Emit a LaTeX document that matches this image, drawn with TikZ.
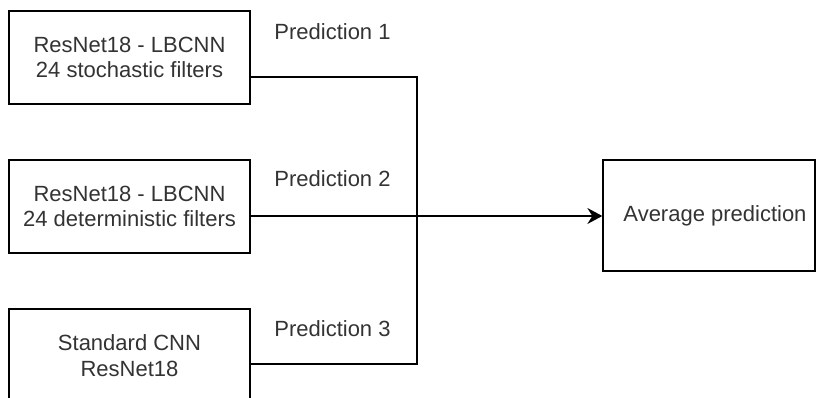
\documentclass[tikz,border=0pt]{standalone}
\usepackage{fontspec}
\setmainfont{Liberation Sans}
\usetikzlibrary{arrows.meta}
\begin{document}
\begin{tikzpicture}[x=1pt,y=1pt,
  every node/.style={font=\fontsize{22}{25.5}\selectfont, text=black!80},
  model/.style={draw=black, line width=1.3pt, fill=white, minimum width=241pt, minimum height=93pt, align=center, inner sep=0pt},
  result/.style={draw=black, line width=1.3pt, fill=white, minimum width=212pt, minimum height=111pt, inner sep=0pt},
  wire/.style={draw=black, line width=1.3pt},
  plabel/.style={anchor=base}]
\useasboundingbox (0,0) rectangle (816,-398);

% model boxes
\node[model] (m1) at (129.5,-57.5) {ResNet18 - LBCNN\\24 stochastic filters};
\node[model] (m2) at (129.5,-206.5) {ResNet18 - LBCNN\\24 deterministic filters};
\node[model] (m3) at (129.5,-355.5) {Standard CNN\\ResNet18};

% averaging box
\node[result] (avg) at (709,-215.5) {};
\node (avgtext) at (715,-216) {Average prediction};

% joining point of the three outputs
\coordinate (j1) at (417,-77);
\coordinate (j2) at (417,-216);
\coordinate (j3) at (417,-364);

\draw[wire] (m1.east |- j1) -- (j1) -- (j3) -- (m3.east |- j3);
\draw[wire, -{Stealth[length=15pt,width=16pt,inset=5pt]}] (m2.east |- j2) -- (avg.west |- j2);

% prediction labels
\node[plabel] (p1) at (332.5,-39.5) {Prediction 1};
\node[plabel] (p2) at (332.5,-187) {Prediction 2};
\node[plabel] (p3) at (332.5,-336.5) {Prediction 3};
\end{tikzpicture}
\end{document}
